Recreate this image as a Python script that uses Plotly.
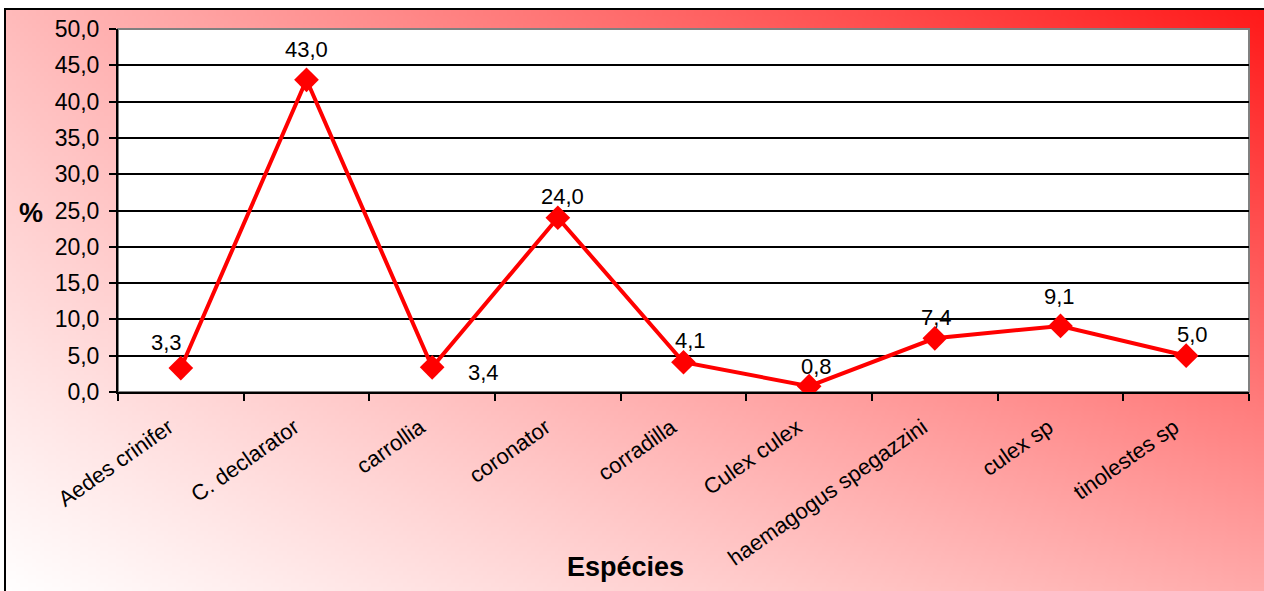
import base64, struct, zlib
import numpy as np
import plotly.graph_objects as go

# ---- data ----
categories = ["Aedes crinifer", "C. declarator", "carrollia", "coronator", "corradilla",
              "Culex culex", "haemagogus spegazzini", "culex sp", "tinolestes sp"]
values = [3.3, 43.0, 3.4, 24.0, 4.1, 0.8, 7.4, 9.1, 5.0]
y_ticks = [0, 5, 10, 15, 20, 25, 30, 35, 40, 45, 50]

# label offsets (style only)
label_dx = [-14, 0, 51, 5, 7, 7, 2, -1, 6]
label_dy = [26, 30, -5, 21, 22, 20, 21, 29, 21]

# ---- gradient background as PNG ----
def gradient_png(w, h):
    u = np.linspace(0, 1, w)[None, :]
    v = np.linspace(1, 0, h)[:, None]  # 1 at top
    tl, tr, bl, br = 187.0, 26.0, 255.0, 170.0
    top = tl + (tr - tl) * u
    bot = bl + (br - bl) * u
    gb = bot + (top - bot) * v
    img = np.zeros((h, w, 3), dtype=np.uint8)
    img[..., 0] = 255
    img[..., 1] = np.clip(gb, 0, 255).astype(np.uint8)
    img[..., 2] = np.clip(gb, 0, 255).astype(np.uint8)
    raw = b"".join(b"\x00" + img[r].tobytes() for r in range(h))
    def chunk(t, d):
        c = struct.pack(">I", len(d)) + t + d
        return c + struct.pack(">I", zlib.crc32(t + d) & 0xffffffff)
    png = b"\x89PNG\r\n\x1a\n"
    png += chunk(b"IHDR", struct.pack(">IIBBBBB", w, h, 8, 2, 0, 0, 0))
    png += chunk(b"IDAT", zlib.compress(raw, 9))
    png += chunk(b"IEND", b"")
    return "data:image/png;base64," + base64.b64encode(png).decode()

W, H = 1264, 591
L, R, T, B = 118, 1249, 29, 392
pw, ph = R - L, B - T

def px(x):
    return (x - L) / pw

def py(y):
    return (B - y) / ph

font = "Liberation Sans, Arial, sans-serif"

fig = go.Figure()
fig.add_trace(go.Scatter(
    x=categories, y=values, mode="lines+markers",
    line=dict(color="#FF0000", width=4),
    marker=dict(symbol="diamond", size=19, color="#FF0000"),
    hoverinfo="x+y", showlegend=False,
))

for c, v, dx, dy in zip(categories, values, label_dx, label_dy):
    fig.add_annotation(x=c, y=v, text=f"{v:.1f}".replace(".", ","), showarrow=False,
                       xshift=dx, yshift=dy, font=dict(family=font, size=22, color="black"))

fig.add_annotation(xref="paper", yref="paper", x=px(625), y=py(567), text="<b>Espécies</b>",
                   xanchor="center", yanchor="middle",
                   showarrow=False, font=dict(family=font, size=27, color="black"))
fig.add_annotation(xref="paper", yref="paper", x=px(31), y=py(213), text="<b>%</b>",
                   xanchor="center", yanchor="middle",
                   showarrow=False, font=dict(family=font, size=27, color="black"))

fig.add_layout_image(dict(
    source=gradient_png(316, 146), xref="paper", yref="paper",
    x=px(6), y=py(10), sizex=(W + 2 - 6) / pw, sizey=(H + 2 - 10) / ph,
    xanchor="left", yanchor="top", sizing="stretch", layer="below",
))

# outer border (left and top visible)
fig.add_shape(type="rect", xref="paper", yref="paper",
              x0=px(5), x1=px(W + 10), y0=py(H + 10), y1=py(9),
              line=dict(color="black", width=2), fillcolor="rgba(0,0,0,0)", layer="above")
# plot area: white fill with gray frame
fig.add_shape(type="rect", xref="x domain", yref="y domain", x0=0, x1=1, y0=0, y1=1,
              line=dict(color="#808080", width=2), fillcolor="white", layer="below")

fig.update_xaxes(
    type="category", range=[-0.5, len(categories) - 0.5],
    tickson="boundaries", ticks="outside", ticklen=7, tickwidth=2, tickcolor="black",
    showline=True, linecolor="black", linewidth=2, showgrid=False,
    tickangle=-35, ticklabelstandoff=12, ticklabelshift=-12,
    tickfont=dict(family=font, size=22, color="black"),
)
fig.update_yaxes(
    range=[0, 50], tickvals=y_ticks, tickformat=".1f",
    ticks="outside", ticklen=7, tickwidth=2, tickcolor="black",
    showline=True, linecolor="black", linewidth=2,
    showgrid=True, gridcolor="black", gridwidth=1.5, zeroline=False,
    ticklabelstandoff=5,
    tickfont=dict(family=font, size=23, color="black"),
)

fig.update_layout(
    width=W, height=H, separators=",.",
    margin=dict(l=L, r=W - R, t=T, b=H - B),
    paper_bgcolor="white", plot_bgcolor="white",
    showlegend=False,
)

fig.write_html("out.html")
